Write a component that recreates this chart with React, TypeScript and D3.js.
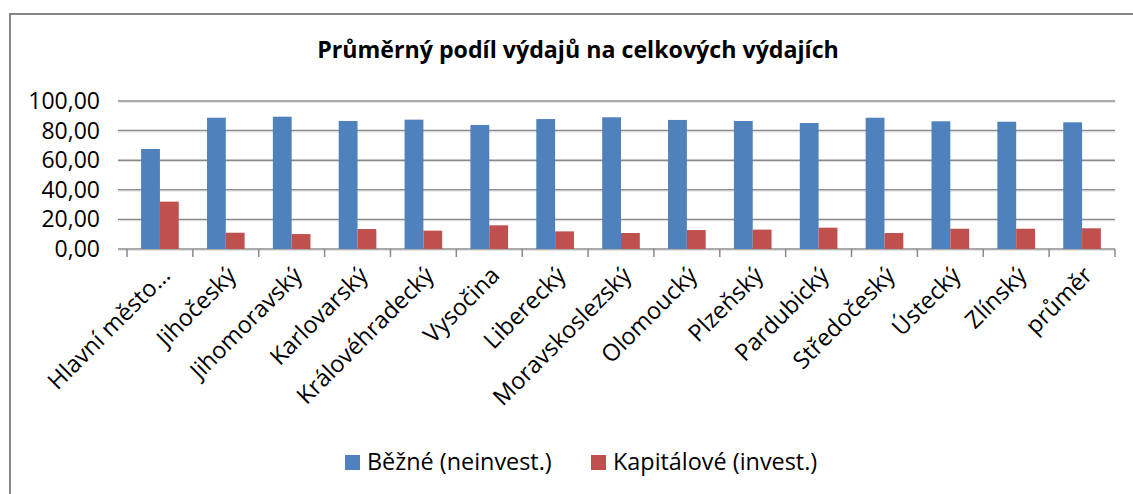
import React from "react";
import * as d3 from "d3";

const categories = [
  "Hlavní město…",
  "Jihočeský",
  "Jihomoravský",
  "Karlovarský",
  "Královéhradecký",
  "Vysočina",
  "Liberecký",
  "Moravskoslezský",
  "Olomoucký",
  "Plzeňský",
  "Pardubický",
  "Středočeský",
  "Ústecký",
  "Zlínský",
  "průměr",
];

const bezne = [67.6, 88.7, 89.4, 86.5, 87.4, 83.8, 87.8, 89.0, 87.2, 86.5, 85.1, 88.7, 86.3, 86.0, 85.6];
const kapitalove = [32.0, 11.0, 10.1, 13.5, 12.4, 16.0, 11.9, 10.8, 12.8, 13.1, 14.4, 10.8, 13.7, 13.7, 14.0];

const seriesNames = ["Běžné (neinvest.)", "Kapitálové (invest.)"];
const seriesColors = ["#4F81BD", "#C0504D"];
const yTicks = [0, 20, 40, 60, 80, 100];
const title = "Průměrný podíl výdajů na celkových výdajích";

const W = 1133;
const H = 494;
const left = 127;
const right = 1115;
const top = 101;
const bottom = 249;
const FONT = "'Open Sans', 'Noto Sans', sans-serif";

export default function App() {
  const x0 = d3
    .scaleBand<string>()
    .domain(categories)
    .range([left, right])
    .paddingInner(1.5 / 3.5)
    .paddingOuter(0.75 / 3.5);
  const x1 = d3.scaleBand<string>().domain(seriesNames).range([0, x0.bandwidth()]);
  const y = d3.scaleLinear().domain([0, 100]).range([bottom, top]);
  const step = x0.step();
  const fmt = (v: number) => v.toFixed(2).replace(".", ",");
  const series = [bezne, kapitalove];

  return (
    <svg
      width={W}
      height={H}
      style={{ position: "absolute", left: 0, top: 0, background: "#fff" }}
      fontFamily={FONT}
    >
      <rect x={0} y={0} width={W} height={H} fill="#fff" />
      <rect x={10} y={14} width={W + 20} height={H + 20} fill="#fff" stroke="#878787" strokeWidth={2} />
      <text x={578} y={58} textAnchor="middle" fontSize={23.2} fontWeight="bold" fill="#000">
        {title}
      </text>
      {yTicks.map((t) => (
        <g key={t}>
          <line x1={left - 9} x2={right} y1={y(t)} y2={y(t)} stroke="#8a8a8a" strokeWidth={1.5} />
          <line x1={left - 9} x2={right} y1={y(t) + 1.3} y2={y(t) + 1.3} stroke="#d4d4d4" strokeWidth={0.8} />
          <text x={100} y={y(t) + 8} textAnchor="end" fontSize={23} fill="#000">
            {fmt(t)}
          </text>
        </g>
      ))}
      {categories.map((c, i) => (
        <line
          key={"tk" + i}
          x1={left + step * i}
          x2={left + step * i}
          y1={bottom}
          y2={bottom + 8}
          stroke="#8a8a8a"
          strokeWidth={1.5}
        />
      ))}
      <line x1={right} x2={right} y1={bottom} y2={bottom + 8} stroke="#8a8a8a" strokeWidth={1.5} />
      {categories.map((c, i) => (
        <g key={"b" + i}>
          {series.map((s, j) => (
            <rect
              key={j}
              x={(x0(c) as number) + (x1(seriesNames[j]) as number)}
              y={y(s[i])}
              width={x1.bandwidth()}
              height={bottom - y(s[i])}
              fill={seriesColors[j]}
            />
          ))}
        </g>
      ))}
      {categories.map((c, i) => {
        const cx = (x0(c) as number) + x0.bandwidth() / 2 + 6;
        const cy = bottom + 22;
        return (
          <text
            key={"l" + i}
            transform={`translate(${cx},${cy}) rotate(-45)`}
            textAnchor="end"
            dy="0.35em"
            fontSize={23.5}
            fill="#000"
          >
            {c}
          </text>
        );
      })}
      <g>
        <rect x={345} y={455} width={15} height={15} fill={seriesColors[0]} />
        <text x={367} y={470} fontSize={23.4} fill="#000">
          {seriesNames[0]}
        </text>
        <rect x={591} y={455} width={15} height={15} fill={seriesColors[1]} />
        <text x={613} y={470} fontSize={23.4} fill="#000">
          {seriesNames[1]}
        </text>
      </g>
    </svg>
  );
}
